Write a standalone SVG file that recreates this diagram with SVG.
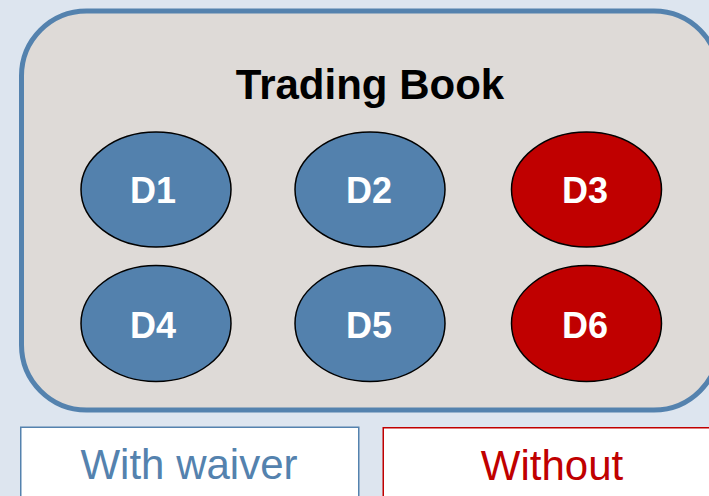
<svg xmlns="http://www.w3.org/2000/svg" width="709" height="496" viewBox="0 0 709 496">
<style>
.ell{stroke:#000;stroke-width:1.5}
.blue{fill:#5381ad}
.red{fill:#c00000}
.lbl{font-family:"Liberation Sans",Arial,sans-serif;font-weight:bold;font-size:36px;fill:#fff;text-anchor:middle}
.leg{font-family:"Liberation Sans",Arial,sans-serif;font-size:42px;text-anchor:middle}
</style>
<rect x="0" y="0" width="709" height="496" fill="#dde5ef"/>
<g id="book">
<rect x="21.5" y="11" width="697.5" height="399" rx="65" ry="65" fill="#dedad7" stroke="#5482ae" stroke-width="5"/>
<text x="370" y="99" font-family="Liberation Sans,Arial,sans-serif" font-weight="bold" font-size="42" text-anchor="middle" fill="#000">Trading Book</text>
</g>
<g id="connectors"/>
<g id="D1"><ellipse class="ell blue" cx="156" cy="189.5" rx="75" ry="57.5"/><text class="lbl" x="153" y="203">D1</text></g>
<g id="D2"><ellipse class="ell blue" cx="370" cy="189.5" rx="75" ry="57.5"/><text class="lbl" x="369" y="203">D2</text></g>
<g id="D3"><ellipse class="ell red" cx="586.5" cy="189.5" rx="75" ry="57.5"/><text class="lbl" x="585" y="203">D3</text></g>
<g id="D4"><ellipse class="ell blue" cx="156" cy="323.5" rx="75" ry="58"/><text class="lbl" x="153" y="338">D4</text></g>
<g id="D5"><ellipse class="ell blue" cx="370" cy="323.5" rx="75" ry="58"/><text class="lbl" x="369" y="338">D5</text></g>
<g id="D6"><ellipse class="ell red" cx="586.5" cy="323.5" rx="75" ry="58"/><text class="lbl" x="585" y="338">D6</text></g>
<g id="with-waiver">
<rect x="20.75" y="427.25" width="338" height="80" fill="#fff" stroke="#5482ae" stroke-width="1.5"/>
<text class="leg" x="189" y="479" fill="#5482ae">With waiver</text>
</g>
<g id="without">
<rect x="383.25" y="427.75" width="340" height="80" fill="#fff" stroke="#c00000" stroke-width="1.5"/>
<text class="leg" x="552" y="480" fill="#c00000">Without</text>
</g>
</svg>
